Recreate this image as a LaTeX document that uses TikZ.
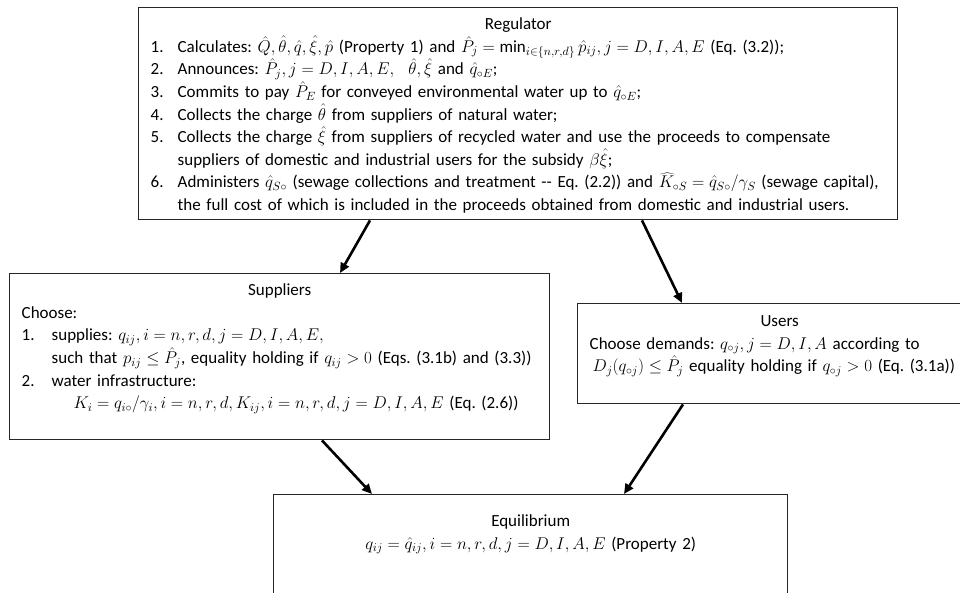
\RequirePackage{fix-cm}
\documentclass[tikz,border=0pt]{standalone}
\usepackage{fontspec}
\setmainfont{Carlito}
\usetikzlibrary{positioning,arrows.meta,calc}

\newcommand{\stepitem}[3][27pt]{\hangindent=#1\hangafter=1\noindent\makebox[#1][l]{#2}#3\par}

\begin{document}
\frenchspacing
\begin{tikzpicture}[
x=1pt,y=-1pt,
panel/.style={draw=black!85,line width=1.4pt,fill=white,anchor=north west,
  inner xsep=12pt,inner ysep=4pt,align=left,
  font=\fontsize{17}{22.6}\selectfont},
flow/.style={line width=2.6pt,-{Triangle[length=10pt,width=9pt]}},
]
\useasboundingbox (0,0) rectangle (960,592);
\clip (0,0) rectangle (960,592);

% the four boxes
\node[panel,text width=735pt,text height=18pt,text depth=186pt] (reg) at (138,7) {\raggedright
\makebox[\linewidth]{Regulator}\par
\stepitem{1.}{Calculates: $\hat{Q},\hat{\theta},\hat{q},\hat{\xi},\hat{p}$ (Property 1) and $\hat{P}_j=\min_{i\in\{n,r,d\}}\hat{p}_{ij}, j=D,I,A,E$ (Eq. (3.2));}
\stepitem{2.}{Announces: $\hat{P}_j, j=D,I,A,E,\ \ \hat{\theta},\hat{\xi}$ and $\hat{q}_{\circ E}$;}
\stepitem{3.}{Commits to pay $\hat{P}_E$ for conveyed environmental water up to $\hat{q}_{\circ E}$;}
\stepitem{4.}{Collects the charge $\hat{\theta}$ from suppliers of natural water;}
\stepitem{5.}{Collects the charge $\hat{\xi}$ from suppliers of recycled water and use the proceeds to compensate\newline suppliers of domestic and industrial users for the subsidy $\beta\hat{\xi}$;}
\stepitem{6.}{Administers $\hat{q}_{S\circ}$ (sewage collections and treatment {-}{-} Eq. (2.2)) and $\widehat{K}_{\circ S}=\hat{q}_{S\circ}/\gamma_S$ (sewage capital),\newline the full cost of which is included in the proceeds obtained from domestic and industrial users.}
};

\node[panel,text width=516pt,text height=18pt,text depth=140pt] (sup) at (9,273) {\raggedright
\makebox[\linewidth]{Suppliers}\par
\noindent Choose:\par
\stepitem[30pt]{1.}{supplies: $q_{ij}, i=n,r,d, j=D,I,A,E,$}
\noindent\hspace*{30pt}such that $p_{ij}\le\hat{P}_j$, equality holding if $q_{ij}>0$ (Eqs. (3.1b) and (3.3))\par
\stepitem[30pt]{2.}{water infrastructure:}
\noindent\hspace*{52pt}$K_i=q_{i\circ}/\gamma_i, i=n,r,d, K_{ij}, i=n,r,d, j=D,I,A,E$ (Eq. (2.6))\par
};

\node[panel,text width=380pt,text height=19pt,text depth=73pt] (usr) at (577,303) {\raggedright
\makebox[\linewidth]{Users}\par
\noindent Choose demands: $q_{\circ j}, j=D,I,A$ according to\par
\noindent\hspace*{3pt}$D_j\bigl(q_{\circ j}\bigr)\le\hat{P}_j$ equality holding if $q_{\circ j}>0$ (Eq. (3.1a))\par
};

\node[panel,text width=490pt,text height=28pt,text depth=70pt] (equ) at (273,494) {%
\makebox[\linewidth]{Equilibrium}\par
\makebox[\linewidth]{$q_{ij}=\hat{q}_{ij}, i=n,r,d, j=D,I,A,E$ (Property 2)}\par
};

% arrows
\draw[flow] ([xshift=232pt]reg.south west) -- ([xshift=331pt]sup.north west);
\draw[flow] ([xshift=504pt]reg.south west) -- ([xshift=105pt]usr.north west);
\draw[flow] ([xshift=313pt]sup.south west) -- ([xshift=99pt]equ.north west);
\draw[flow] ([xshift=106pt]usr.south west) -- ([xshift=351pt]equ.north west);

\end{tikzpicture}
\end{document}
